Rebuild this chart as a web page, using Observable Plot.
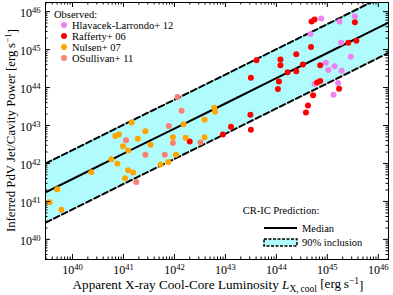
<!DOCTYPE html>
<html><head><meta charset="utf-8">
<script src="https://cdn.jsdelivr.net/npm/d3@7"></script>
<script src="https://cdn.jsdelivr.net/npm/@observablehq/plot@0.6"></script>
<style>html,body{margin:0;padding:0;background:#fff} svg{display:block}</style>
</head><body><div id="chart"></div>
<script>
// ---- data (log10 values) ----
const seriesNames = ["Hlavacek-Larrondo+ 12", "Rafferty+ 06", "Nulsen+ 07", "OSullivan+ 11"];
const seriesColors = ["violet", "red", "orange", "salmon"];

const hlLogL = [44.88,44.67,44.75,44.97,45.02,45.14,45.21,45.12,45.28,45.24,45.27,45.46,45.54];
const hlLogP = [45.82,45.41,44.10,44.65,44.46,44.56,44.12,43.81,44.44,45.74,45.18,44.81,45.88];

const raLogL = [42.30,42.95,43.11,43.49,43.50,43.50,43.61,44.03,44.05,44.08,44.08,44.22,44.39,44.39,44.52,44.58,44.62,44.68,44.72,44.69,44.75,44.86,44.80,44.86,45.23,45.41,45.57,45.54];
const raLogP = [42.58,42.76,42.97,43.28,42.89,44.26,44.72,43.96,44.16,44.74,44.59,44.40,44.88,44.43,44.61,43.34,43.53,45.07,43.80,45.74,45.79,44.59,44.13,44.17,43.97,45.18,45.23,45.72];

const nuLogL = [39.55,39.70,39.78,40.37,40.76,40.88,41.03,41.09,41.19,40.99,41.09,41.53,41.73,41.88,42.03,40.84,40.91,41.16,41.28,41.43,41.97,42.18,42.22,42.78,42.80,42.59,42.59];
const nuLogP = [40.98,41.32,40.78,41.77,42.11,41.99,41.61,41.82,41.76,42.45,42.34,42.49,41.97,42.04,42.23,42.72,42.76,43.08,42.65,42.85,42.69,43.03,42.68,43.47,43.36,43.15,42.69];

const osLogL = [41.25,41.43,41.81,41.97,41.05,41.89,42.14,42.06,42.51];
const osLogP = [41.51,42.23,42.23,42.54,42.61,42.99,43.39,43.75,42.55];

// CR-IC prediction: median and 90% inclusion band
const predLogL   = [39, 40, 41, 42, 43, 44, 45, 46, 47];
const medianLogP = [40.93,41.59,42.26,42.92,43.58,44.25,44.91,45.58,46.24];
const upperLogP  = [41.69,42.35,43.02,43.68,44.34,45.01,45.67,46.34,47.00];
const lowerLogP  = [40.13,40.79,41.46,42.12,42.78,43.45,44.11,44.78,45.44];

const xTickExps = [40, 41, 42, 43, 44, 45, 46];
const yTickExps = [40, 41, 42, 43, 44, 45, 46];

// ---- build tables ----
const seriesL = [hlLogL, raLogL, nuLogL, osLogL];
const seriesP = [hlLogP, raLogP, nuLogP, osLogP];
const seriesData = seriesNames.map((n, s) => seriesL[s].map((l, i) => ({L: 10 ** l, P: 10 ** seriesP[s][i]})));
const pred = predLogL.map((l, i) => ({L: 10 ** l, med: 10 ** medianLogP[i], hi: 10 ** upperLogP[i], lo: 10 ** lowerLogP[i]}));

const W = 393, H = 295, mL = 45, mR = 5, mT = 2, mB = 36;
const pw = W - mL - mR, ph = H - mT - mB;
const xDomain = [10 ** 39.47, 10 ** 46.2];
const yDomain = [10 ** 39.47, 10 ** 46.24];

const majorX = xTickExps.map(e => 10 ** e);
const majorY = yTickExps.map(e => 10 ** e);
const minorAll = [];
for (let k = 39; k <= 46; k++) for (let m = 2; m <= 9; m++) minorAll.push(m * 10 ** k);
const minorX = minorAll.filter(v => v > xDomain[0] && v < xDomain[1]);
const minorY = minorAll.filter(v => v > yDomain[0] && v < yDomain[1]);

const FONT = "Liberation Serif";
const supFmt = d => "10^" + Math.round(Math.log10(d));

const svg = Plot.plot({
  width: W, height: H,
  marginLeft: mL, marginRight: mR, marginTop: mT, marginBottom: mB,
  x: {type: "log", domain: xDomain},
  y: {type: "log", domain: yDomain},
  style: {fontFamily: FONT, background: "white", color: "black"},
  marks: [
    Plot.areaY(pred, {x: "L", y1: "lo", y2: "hi", fill: "#b0fcfc", clip: true}),
    Plot.line(pred, {x: "L", y: "med", stroke: "black", strokeWidth: 2, clip: true}),
    Plot.line(pred, {x: "L", y: "hi", stroke: "black", strokeWidth: 2, strokeDasharray: "6,3", clip: true}),
    Plot.line(pred, {x: "L", y: "lo", stroke: "black", strokeWidth: 2, strokeDasharray: "6,3", clip: true}),
    ...seriesData.map((d, s) => Plot.dot(d, {x: "L", y: "P", r: 3, fill: seriesColors[s], stroke: "none"})),
    // inward ticks on all four sides
    Plot.tickY(majorY, {y: d => d, insetRight: pw - 5, stroke: "black"}),
    Plot.tickY(majorY, {y: d => d, insetLeft: pw - 5, stroke: "black"}),
    Plot.tickY(minorY, {y: d => d, insetRight: pw - 2.5, stroke: "black"}),
    Plot.tickY(minorY, {y: d => d, insetLeft: pw - 2.5, stroke: "black"}),
    Plot.tickX(majorX, {x: d => d, insetTop: ph - 5, stroke: "black"}),
    Plot.tickX(majorX, {x: d => d, insetBottom: ph - 5, stroke: "black"}),
    Plot.tickX(minorX, {x: d => d, insetTop: ph - 2.5, stroke: "black"}),
    Plot.tickX(minorX, {x: d => d, insetBottom: ph - 2.5, stroke: "black"}),
    Plot.frame({stroke: "black", strokeWidth: 1}),
    Plot.axisX({ticks: majorX, tickSize: 0, tickPadding: 6, tickFormat: supFmt, fontSize: 12, label: null}),
    Plot.axisY({ticks: majorY, tickSize: 0, tickPadding: 5, tickFormat: supFmt, fontSize: 12, label: null, dy: 1.5})
  ]
});

const root = d3.select(svg);
// superscripts in tick labels
root.selectAll("text").each(function () {
  const t = this.textContent;
  if (/^10\^\d+$/.test(t)) {
    const e = t.split("^")[1];
    const s = d3.select(this);
    s.text("");
    s.append("tspan").text("10");
    s.append("tspan").attr("dy", "-0.45em").attr("font-size", "0.72em").text(e);
  }
});

// axis titles
const yl = root.append("text")
  .attr("transform", `translate(15,${mT + ph / 2}) rotate(-90)`)
  .attr("text-anchor", "middle").attr("font-family", FONT).attr("font-size", 12.8);
yl.append("tspan").text("Inferred PdV Jet/Cavity Power [erg\u2009s");
yl.append("tspan").attr("dy", "-0.45em").attr("font-size", "0.72em").text("\u22121");
yl.append("tspan").attr("dy", "0.45em").text("]");

const xl = root.append("text")
  .attr("x", 218).attr("y", 289)
  .attr("text-anchor", "middle").attr("font-family", FONT).attr("font-size", 13.2);
xl.append("tspan").text("Apparent X-ray Cool-Core Luminosity ");
xl.append("tspan").attr("font-style", "italic").text("L");
xl.append("tspan").attr("dy", "0.3em").attr("font-size", "0.72em").text("X,\u2009cool");
xl.append("tspan").attr("dy", "-0.3em").text(" [erg\u2009s");
xl.append("tspan").attr("dy", "-0.45em").attr("font-size", "0.72em").text("\u22121");
xl.append("tspan").attr("dy", "0.45em").text("]");

// observed legend (top-left)
const lg = root.append("g").attr("font-family", FONT).attr("font-size", 10.5).attr("text-anchor", "start");
lg.append("text").attr("x", 54).attr("y", 18).text("Observed:");
seriesNames.forEach((n, i) => {
  const cy = 25 + i * 11;
  lg.append("circle").attr("cx", 64).attr("cy", cy).attr("r", 3).attr("fill", seriesColors[i]);
  lg.append("text").attr("x", 72).attr("y", cy + 3.5).text(n);
});

// prediction legend (bottom-right)
const pg = root.append("g").attr("font-family", FONT).attr("font-size", 10.5).attr("text-anchor", "start");
pg.append("text").attr("x", 281).attr("y", 214).attr("text-anchor", "middle").text("CR-IC Prediction:");
pg.append("line").attr("x1", 264).attr("x2", 297).attr("y1", 228).attr("y2", 228).attr("stroke", "black").attr("stroke-width", 2);
pg.append("text").attr("x", 302).attr("y", 231.5).text("Median");
pg.append("rect").attr("x", 264).attr("y", 239).attr("width", 33).attr("height", 7)
  .attr("fill", "#b0fcfc").attr("stroke", "black").attr("stroke-width", 1.5).attr("stroke-dasharray", "3,1.5");
pg.append("text").attr("x", 302).attr("y", 245.5).text("90% inclusion");

document.getElementById("chart").appendChild(svg);
</script>
</body></html>
